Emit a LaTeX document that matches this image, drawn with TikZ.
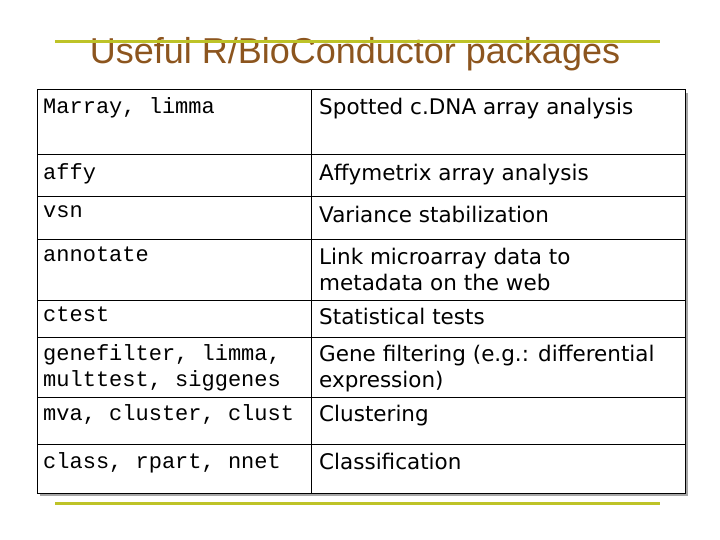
\documentclass[tikz,border=0pt]{standalone}
\usepackage{fontspec}
\setmainfont{DejaVu Sans}
\newfontfamily\titlefont{Liberation Sans}
\newfontfamily\codefont{Liberation Mono}
\usetikzlibrary{positioning}
\definecolor{titlebrown}{RGB}{140,85,30}
\definecolor{rulegreen}{RGB}{190,195,40}
\begin{document}
\begin{tikzpicture}[x=1pt,y=-1pt,
  pkg/.style={anchor=north west,inner sep=0pt,font=\codefont\fontsize{22}{26}\selectfont,align=left},
  desc/.style={anchor=north west,inner sep=0pt,font=\fontsize{21.5}{26}\selectfont,align=left},
  grid/.style={line width=1pt,black}]
\useasboundingbox (0,0) rectangle (720,540);
% title and rules
\node[font=\titlefont\fontsize{36}{40}\selectfont,text=titlebrown] (title) at (355,54) {Useful R/BioConductor packages};
\draw[rulegreen,line width=3pt] (55,42) -- (660,42);
\draw[rulegreen,line width=3pt] (55,503) -- (660,503);
% table
\fill[gray!70] (40,93) rectangle (688,496);
\fill[white] (37,90) rectangle (685,493);
\draw[grid] (37,90) rectangle (685,493);
\draw[grid] (311,90) -- (311,493);
\foreach \y in {155,197,239,300,337,397,444}
  \draw[grid] (37,\y) -- (685,\y);
% rows
\node[pkg] (p1) at (43,97) {Marray, limma};
\node[desc] (d1) at (319,98) {Spotted c.DNA array analysis};
\node[pkg] (p2) at (43,163) {affy};
\node[desc] (d2) at (319,164) {Affymetrix array analysis};
\node[pkg] (p3) at (43,205) {vsn};
\node[desc] (d3) at (319,206) {Variance stabilization};
\node[pkg] (p4) at (43,247) {annotate};
\node[desc] (d4) at (319,248) {Link microarray data to\\metadata on the web};
\node[pkg] (p5) at (43,307) {ctest};
\node[desc] (d5) at (319,308) {Statistical tests};
\node[pkg] (p6) at (43,344) {genefilter, limma,\\multtest, siggenes};
\node[desc] (d6) at (319,345) {Gene filtering (e.g.: differential\\expression)};
\node[pkg] (p7) at (43,404) {mva, cluster, clust};
\node[desc] (d7) at (319,405) {Clustering};
\node[pkg] (p8) at (43,452) {class, rpart, nnet};
\node[desc] (d8) at (319,453) {Classification};
\end{tikzpicture}
\end{document}
